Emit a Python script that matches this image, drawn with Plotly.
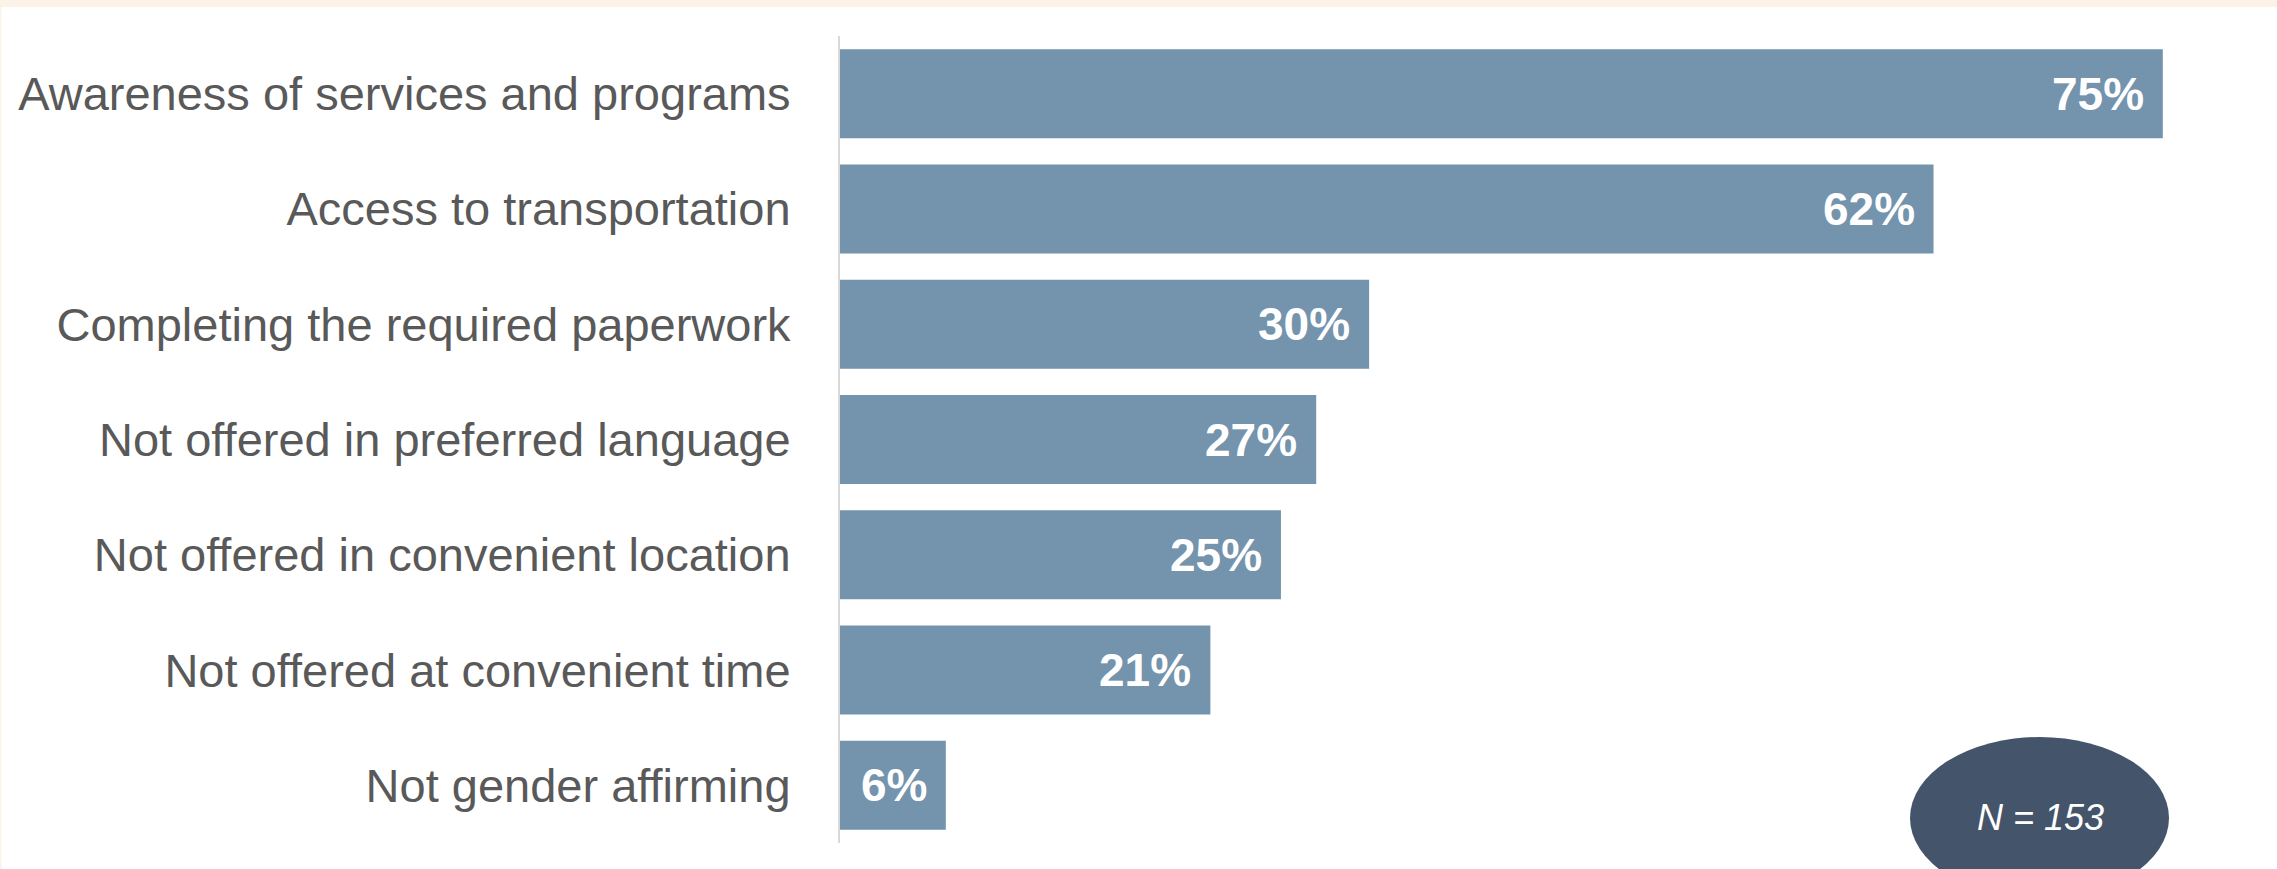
import plotly.graph_objects as go

# Survey results: barriers to accessing services
categories = [
    "Awareness of services and programs",
    "Access to transportation",
    "Completing the required paperwork",
    "Not offered in preferred language",
    "Not offered in convenient location",
    "Not offered at convenient time",
    "Not gender affirming",
]
values = [75, 62, 30, 27, 25, 21, 6]
value_labels = [f"{v}%" for v in values]
sample_note = "N = 153"

W, H = 2277, 869
L, R, T, B = 840, 26, 36, 26
x_max = 80

BAR_COLOR = "#7493AD"
TEXT_GREY = "#595959"
FONT = "Liberation Sans, Arial, sans-serif"

plot_w = W - L - R
plot_h = H - T - B


def px_x(px):
    return (px - L) / plot_w


def px_y(py):
    return (H - B - py) / plot_h


fig = go.Figure(
    go.Bar(
        x=values,
        y=categories,
        orientation="h",
        marker=dict(color=BAR_COLOR, line=dict(width=0)),
        hoverinfo="skip",
    )
)

# value labels inside the bar ends
for cat, v, lab in zip(categories, values, value_labels):
    fig.add_annotation(
        x=v, y=cat, text=f"<b>{lab}</b>", showarrow=False,
        xanchor="right", yanchor="middle", xshift=-17,
        font=dict(family=FONT, size=46, color="white"),
    )

# sample-size badge
fig.add_shape(
    type="circle", xref="paper", yref="paper",
    x0=px_x(1910), x1=px_x(2169), y0=px_y(899), y1=px_y(737),
    fillcolor="#44546A", line=dict(width=0), layer="above",
)
fig.add_annotation(
    xref="paper", yref="paper", x=px_x(2040), y=px_y(817),
    text=f"<i>{sample_note}</i>", showarrow=False,
    xanchor="center", yanchor="middle",
    font=dict(family=FONT, size=36, color="white"),
)

# thin warm border along the top and left of the page
fig.add_shape(
    type="rect", xref="paper", yref="paper",
    x0=px_x(0), x1=px_x(W), y0=px_y(7), y1=px_y(0),
    fillcolor="#FDF2E8", line=dict(width=0), layer="below",
)
fig.add_shape(
    type="rect", xref="paper", yref="paper",
    x0=px_x(0), x1=px_x(1.5), y0=px_y(H), y1=px_y(0),
    fillcolor="#FDF2E8", line=dict(width=0), layer="below",
)

fig.update_layout(
    width=W, height=H,
    margin=dict(l=L, r=R, t=T, b=B, pad=0, autoexpand=False),
    paper_bgcolor="white", plot_bgcolor="white",
    bargap=0.228,
    showlegend=False,
    font=dict(family=FONT, color=TEXT_GREY),
    xaxis=dict(
        range=[0, x_max], visible=False, showgrid=False, zeroline=False,
        fixedrange=True, automargin=False,
    ),
    yaxis=dict(
        type="category",
        categoryorder="array", categoryarray=categories,
        range=[len(categories) - 0.5, -0.5],
        showgrid=False, zeroline=False,
        showline=True, linecolor="#D9D9D9", linewidth=2,
        ticks="", ticklabelstandoff=38, automargin=False,
        tickfont=dict(family=FONT, size=47, color=TEXT_GREY),
        fixedrange=True,
    ),
)

fig.write_html("out.html")
